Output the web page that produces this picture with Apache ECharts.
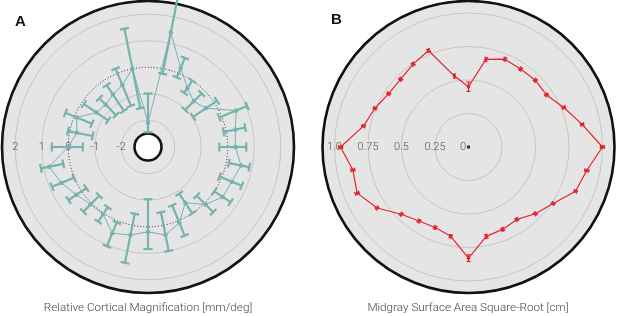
<!DOCTYPE html>
<html>
<head>
<meta charset="utf-8">
<script src="https://cdn.jsdelivr.net/npm/echarts@6/dist/echarts.min.js"></script>
<style>
html, body { margin: 0; padding: 0; background: #fff; }
#chart { width: 617px; height: 316px; }
</style>
</head>
<body>
<div id="chart"></div>
<script>
// angle of each measurement, degrees counter-clockwise from the right
var angles = [0, 11.25, 22.5, 33.75, 45, 56.25, 67.5, 78.75,
  90, 101.25, 112.5, 123.75, 135, 146.25, 157.5, 168.75,
  180, 191.25, 202.5, 213.75, 225, 236.25, 247.5, 258.75,
  270, 281.25, 292.5, 303.75, 315, 326.25, 337.5, 348.75];

// A: relative cortical magnification (mean, lower and upper end of the bar)
var magMean = [0.29, 0.35, 0.59, -0.38, -0.57, -0.33, 0.21, 1.41,
  -2.09, 0.0, -0.48, -0.63, -0.75, -0.67, -0.1, -0.27,
  0.0, 0.8, 0.53, 0.24, 0.05, 0.04, 0.51, 0.38,
  0.19, 0.38, 0.08, -0.48, 0.06, 0.38, 0.41, 0.57];
var magLow = [-0.32, -0.1, -0.1, -0.96, -1.03, -0.55, -0.17, -0.19,
  -2.45, -1.52, -1.33, -1.37, -1.31, -1.2, -0.72, -0.88,
  -0.55, 0.25, 0.01, -0.21, -0.41, -0.28, 0.07, -0.44,
  -1.04, -0.5, -0.63, -0.89, -0.41, 0.0, -0.09, 0.1];
var magHigh = [0.7, 0.73, 1.04, 0.12, -0.15, 0.0, 0.63, 3.2,
  -0.99, 1.54, 0.19, -0.2, -0.41, -0.1, 0.36, 0.07,
  0.62, 1.11, 0.91, 0.6, 0.44, 0.38, 1.04, 1.45,
  0.84, 0.99, 0.61, 0.0, 0.47, 0.74, 0.82, 0.89];
var magTickLabels = ['-2', '-1', '0', '1', '2'];

// B: midgray surface area square-root
var areaMean = [1.0, 0.865, 0.77, 0.7, 0.705, 0.7, 0.71, 0.667,
  0.45, 0.54, 0.78, 0.744, 0.716, 0.717, 0.756, 0.8,
  0.955, 0.88, 0.9, 0.82, 0.71, 0.665, 0.65, 0.68,
  0.83, 0.68, 0.666, 0.65, 0.705, 0.76, 0.865, 0.9];
var areaErr = [0.015, 0.012, 0.012, 0.012, 0.012, 0.012, 0.012, 0.015,
  0.035, 0.015, 0.012, 0.012, 0.012, 0.012, 0.012, 0.012,
  0.015, 0.015, 0.015, 0.012, 0.012, 0.012, 0.012, 0.012,
  0.025, 0.015, 0.012, 0.012, 0.012, 0.012, 0.012, 0.015];
var areaTickLabels = ['0', '0.25', '0.5', '0.75', '1.0'];

var teal = '#76b3ae';
var red = '#e4252b';
var fill = '#e5e5e5';
var grid = '#c6c6c6';

function closed(arr) {
  return arr.concat([arr[0]]);
}

function errorBars(capHalf, width, color) {
  return function (params, api) {
    var a = api.value(0);
    var p1 = api.coord([api.value(2), a]);
    var p2 = api.coord([api.value(3), a]);
    var dx = p2[0] - p1[0], dy = p2[1] - p1[1];
    var len = Math.sqrt(dx * dx + dy * dy) || 1;
    var nx = -dy / len * capHalf, ny = dx / len * capHalf;
    var style = { stroke: color, lineWidth: width };
    return {
      type: 'group',
      children: [
        { type: 'line', shape: { x1: p1[0], y1: p1[1], x2: p2[0], y2: p2[1] }, style: style },
        { type: 'line', shape: { x1: p1[0] - nx, y1: p1[1] - ny, x2: p1[0] + nx, y2: p1[1] + ny }, style: style },
        { type: 'line', shape: { x1: p2[0] - nx, y1: p2[1] - ny, x2: p2[0] + nx, y2: p2[1] + ny }, style: style }
      ]
    };
  };
}

var magBars = angles.map(function (a, i) { return [a, magMean[i], magLow[i], magHigh[i]]; });
var magLine = closed(angles.map(function (a, i) { return [magMean[i], a]; }));
var areaBars = angles.map(function (a, i) { return [a, areaMean[i], areaMean[i] - areaErr[i], areaMean[i] + areaErr[i]]; });
var areaLine = closed(angles.map(function (a, i) { return [areaMean[i], a]; }));

var holeR = 13.5, outerR = 146;
var labelFont = { color: '#555', fontSize: 11, fontFamily: 'Roboto', fontWeight: 300 };

function angleAxis(idx, showFill) {
  return {
    polarIndex: idx, type: 'value', min: -180, max: 180, interval: 90,
    startAngle: 180, clockwise: false, z: 0,
    axisLine: { show: showFill, lineStyle: { color: '#111', width: 2.6 } },
    axisTick: { show: false }, axisLabel: { show: false }, splitLine: { show: false },
    splitArea: { show: showFill, areaStyle: { color: [fill] } }
  };
}

var chart = echarts.init(document.getElementById('chart'));
chart.setOption({
  animation: false,
  polar: [
    { center: [148, 147], radius: [holeR, outerR] },
    { center: [148, 147], radius: [holeR, outerR] },
    { center: [468.5, 147], radius: [0, outerR] }
  ],
  angleAxis: [angleAxis(0, true), angleAxis(1, false), angleAxis(2, true)],
  radiusAxis: [
    {
      polarIndex: 0, type: 'value', min: -2.5, max: 2.5, z: 1,
      axisLine: { show: false }, axisTick: { show: false },
      splitLine: { lineStyle: { width: 1, color: ['transparent', grid, grid, 'transparent', grid, grid, 'transparent'] } },
      axisLabel: Object.assign({
        margin: 0, verticalAlign: 'middle', align: 'center',
        formatter: function (v) { var k = magTickLabels.indexOf(String(v)); return k >= 0 ? magTickLabels[k] : ''; }
      }, labelFont)
    },
    {
      polarIndex: 1, type: 'value', min: -2.5, max: 2.5, interval: 2.5, z: 1,
      axisLine: { show: false }, axisTick: { show: false }, axisLabel: { show: false },
      splitLine: { lineStyle: { width: 1, color: '#222', type: [1, 2] } }
    },
    {
      polarIndex: 2, type: 'value', min: 0, max: 1.09, interval: 0.25, z: 1,
      axisLine: { show: false }, axisTick: { show: false },
      splitLine: { lineStyle: { width: 1, color: ['transparent', grid, grid, grid, grid, 'transparent'] } },
      axisLabel: Object.assign({
        margin: 0, verticalAlign: 'middle', align: 'center',
        formatter: function (v) {
          var k = Math.round(v / 0.25);
          if (Math.abs(v - k * 0.25) > 1e-6 || k >= areaTickLabels.length) return '';
          return k === 0 ? areaTickLabels[0] + '    ' : areaTickLabels[k];
        }
      }, labelFont)
    }
  ],
  graphic: [
    { type: 'text', left: 15, top: 14, style: { text: 'A', font: 'bold 15px "Liberation Sans"', fill: '#111' } },
    { type: 'text', left: 331, top: 12, style: { text: 'B', font: 'bold 15px "Liberation Sans"', fill: '#111' } },
    { type: 'text', x: 148, y: 308, style: { text: 'Relative Cortical Magnification [mm/deg]', font: '300 11.7px Roboto', fill: '#444', align: 'center', verticalAlign: 'middle' } },
    { type: 'text', x: 468, y: 308, style: { text: 'Midgray Surface Area Square-Root [cm]', font: '300 11.7px Roboto', fill: '#444', align: 'center', verticalAlign: 'middle' } }
  ],
  series: [
    {
      type: 'custom', coordinateSystem: 'polar', polarIndex: 0, z: 3,
      data: magBars, encode: { angle: 0, radius: 1 },
      renderItem: errorBars(4.5, 2.2, teal)
    },
    {
      type: 'line', coordinateSystem: 'polar', polarIndex: 0, z: 4,
      data: magLine, symbol: 'circle', symbolSize: 4.5,
      lineStyle: { color: teal, width: 1 }, itemStyle: { color: teal }
    },
    {
      type: 'custom', coordinateSystem: 'polar', polarIndex: 2, z: 3,
      data: areaBars, encode: { angle: 0, radius: 1 },
      renderItem: errorBars(2, 1.2, red)
    },
    {
      type: 'line', coordinateSystem: 'polar', polarIndex: 2, z: 4,
      data: areaLine, symbol: 'circle', symbolSize: 3.5,
      lineStyle: { color: red, width: 1.2 }, itemStyle: { color: red }
    },
    {
      type: 'scatter', coordinateSystem: 'polar', polarIndex: 2, z: 5,
      data: [[0, 0]], symbol: 'rect', symbolSize: 3, itemStyle: { color: '#000' }
    }
  ]
});
</script>
</body>
</html>
